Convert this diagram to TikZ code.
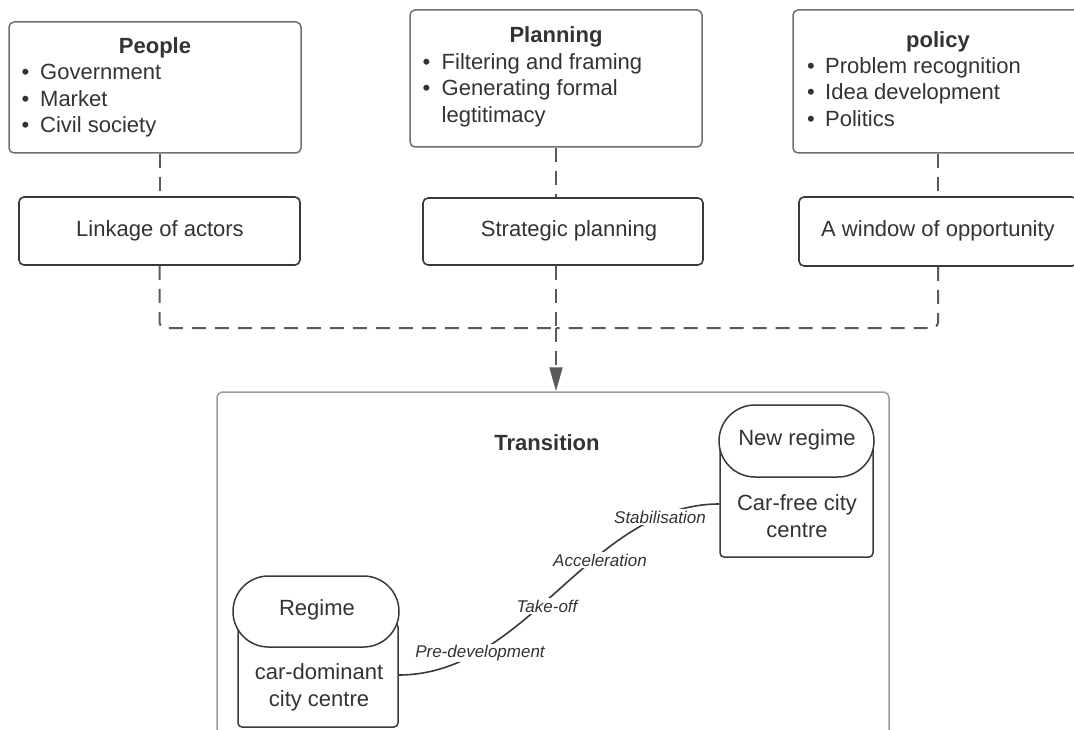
\documentclass[tikz,border=0pt]{standalone}
\usepackage{fontspec}
\setmainfont{Liberation Sans}
\usetikzlibrary{arrows.meta,calc}
\definecolor{txtc}{HTML}{333333}
\definecolor{topgray}{HTML}{707070}
\definecolor{darkb}{HTML}{3A3A3A}
\definecolor{trgray}{HTML}{9C9C9C}
\definecolor{lgray}{HTML}{5A5A5A}
\begin{document}
\begin{tikzpicture}[x=1pt,y=-1pt,
  topbox/.style={draw=topgray, line width=1.5pt, rounded corners=5pt, fill=white, inner sep=0pt},
  midbox/.style={draw=darkb, line width=1.6pt, rounded corners=5pt, fill=white, inner sep=0pt},
  trbox/.style={draw=trgray, line width=1.5pt, rounded corners=6pt, inner sep=0pt},
  head/.style={draw=darkb, line width=1.5pt, fill=white, inner sep=0pt},
  body/.style={draw=darkb, line width=1.5pt, rounded corners=4pt, fill=white, inner sep=0pt},
  txt/.style={font=\fontsize{22}{26}\selectfont, text=txtc, inner sep=0pt, anchor=base},
  ttl/.style={txt, font=\fontsize{22}{26}\selectfont\bfseries},
  lst/.style={txt, anchor=base west},
  phase/.style={font=\fontsize{17}{20}\selectfont\itshape, text=txtc, fill=white, inner sep=1.5pt},
  dashconn/.style={draw=lgray, line width=2pt, dash pattern=on 14pt off 9pt},
  curvec/.style={draw=darkb, line width=1.6pt}
]
\useasboundingbox (0,0) rectangle (1074,730);
\clip (0,0) rectangle (1074,730);

% top boxes
\node[topbox, minimum width=292pt, minimum height=131pt] (people) at (155,87.5) {};
\node[topbox, minimum width=292pt, minimum height=137pt] (planning) at (556,78.5) {};
\node[topbox, minimum width=290pt, minimum height=143pt] (policy) at (938,81.5) {};

\node[ttl] (peopleT) at (155,54) {People};
\node[lst] (people1) at (21.5,80) {\makebox[18.5pt][l]{•}Government};
\node[lst] (people2) at (21.5,106.5) {\makebox[18.5pt][l]{•}Market};
\node[lst] (people3) at (21.5,133) {\makebox[18.5pt][l]{•}Civil society};

\node[ttl] (planningT) at (556,42.5) {Planning};
\node[lst] (planning1) at (422.5,69.5) {\makebox[19pt][l]{•}Filtering and framing};
\node[lst] (planning2) at (422.5,96) {\makebox[19pt][l]{•}Generating formal};
\node[lst] (planning3) at (441.5,122.5) {legtitimacy};

\node[ttl] (policyT) at (938,47.5) {policy};
\node[lst] (policy1) at (807,73.5) {\makebox[18pt][l]{•}Problem recognition};
\node[lst] (policy2) at (807,100) {\makebox[18pt][l]{•}Idea development};
\node[lst] (policy3) at (807,126.5) {\makebox[18pt][l]{•}Politics};

% middle boxes
\node[midbox, minimum width=281pt, minimum height=68pt] (linkage) at (159.5,231) {};
\node[midbox, minimum width=280pt, minimum height=67pt] (strategic) at (563,231.5) {};
\node[midbox, minimum width=278pt, minimum height=69pt] (window) at (938,231.5) {};
\node[txt] (linkageT) at (160,236.5) {Linkage of actors};
\node[txt] (strategicT) at (569,236.5) {Strategic planning};
\node[txt] (windowT) at (938,236.5) {A window of opportunity};

% transition box
\node[trbox, minimum width=672pt, minimum height=408pt] (transition) at (553,596) {};
\node[ttl] (transitionT) at (547,450.5) {Transition};

% dashed connectors
\coordinate (join) at (556,328);
\draw[dashconn] (people.south -| linkage.north) -- (linkage.north);
\draw[dashconn] (planning.south -| join) -- (strategic.north -| join);
\draw[dashconn] (policy.south) -- (window.north);
\draw[dashconn, rounded corners=6pt] (linkage.south) |- (join);
\draw[dashconn, rounded corners=6pt] (window.south) |- (join);
\draw[dashconn] (strategic.south -| join) -- (join);
\draw[dashconn, -{Triangle[length=24pt,width=13pt]}] (join) -- (join |- transition.north);

% regime shapes
\node[body, minimum width=160pt, minimum height=104pt] (regimeBody) at (318,675) {};
\node[head, minimum width=166pt, minimum height=71pt, rounded corners=35.5pt] (regimeHead) at (316,611.5) {};
\node[txt] (regimeT) at (317,615.5) {Regime};
\node[txt] (regime1) at (319,679.5) {car-dominant};
\node[txt] (regime2) at (319,706.5) {city centre};

\node[body, minimum width=153pt, minimum height=117pt] (newBody) at (796.5,498.5) {};
\node[head, minimum width=155pt, minimum height=72pt, rounded corners=36pt] (newHead) at (796.5,441) {};
\node[txt] (newT) at (797,445.5) {New regime};
\node[txt] (new1) at (797,510.5) {Car-free city};
\node[txt] (new2) at (797,537.5) {centre};

% transition curve
\coordinate (curveEnd) at ($(newBody.west)+(0,5.5)$);
\draw[curvec] (regimeBody.east) .. controls (528,675) and (590,504) .. (curveEnd);
\node[phase] (p1) at (480,653) {Pre-development};
\node[phase] (p2) at (547,606) {Take-off};
\node[phase] (p3) at (600,560) {Acceleration};
\node[phase] (p4) at (660,517) {Stabilisation};
\end{tikzpicture}
\end{document}
